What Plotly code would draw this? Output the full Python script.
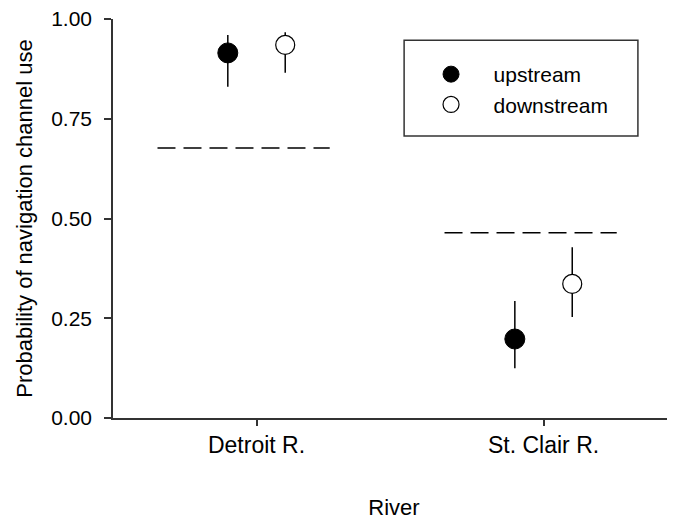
import plotly.graph_objects as go

rivers = ["Detroit R.", "St. Clair R."]
river_pos = [1, 2]
up_mean = [0.915, 0.198]
up_low = [0.830, 0.125]
up_high = [0.960, 0.293]
down_mean = [0.935, 0.336]
down_low = [0.865, 0.253]
down_high = [0.967, 0.428]
expected = [0.677, 0.464]

y_ticks = [0.0, 0.25, 0.5, 0.75, 1.0]
y_ticklabels = ["0.00", "0.25", "0.50", "0.75", "1.00"]

FONT = "Liberation Sans, Arial, sans-serif"
fig = go.Figure()

# expected (dashed) reference lines
for p, e in zip(river_pos, expected):
    fig.add_trace(go.Scatter(
        x=[p - 0.345, p + 0.255], y=[e, e], mode="lines",
        line=dict(color="black", width=1.5, dash="18px,8px"),
        showlegend=False, hoverinfo="skip"))

off = 0.1
pad = "&nbsp;&nbsp;&nbsp;"
fig.add_trace(go.Scatter(
    x=[p - off for p in river_pos], y=up_mean, mode="markers", name=pad + "upstream",
    marker=dict(size=20, color="black", line=dict(color="black", width=1)),
    error_y=dict(type="data", symmetric=False,
                 array=[h - m for h, m in zip(up_high, up_mean)],
                 arrayminus=[m - l for m, l in zip(up_mean, up_low)],
                 width=0, thickness=1.5, color="black")))
fig.add_trace(go.Scatter(
    x=[p + off for p in river_pos], y=down_mean, mode="markers", name=pad + "downstream",
    marker=dict(size=19, color="white", line=dict(color="black", width=1.2)),
    error_y=dict(type="data", symmetric=False,
                 array=[h - m for h, m in zip(down_high, down_mean)],
                 arrayminus=[m - l for m, l in zip(down_mean, down_low)],
                 width=0, thickness=1.5, color="black")))

fig.update_layout(
    width=667, height=512,
    margin=dict(l=105, r=0, t=11, b=102),
    paper_bgcolor="white", plot_bgcolor="white",
    font=dict(family=FONT, size=21, color="black"),
    showlegend=True,
    legend=dict(x=0.557, y=0.9123, xanchor="left", yanchor="top",
                bgcolor="rgba(0,0,0,0)", borderwidth=0,
                font=dict(size=21), itemwidth=40, tracegroupgap=0),
    shapes=[dict(type="rect", xref="paper", yref="paper",
                 x0=0.518, x1=0.934, y0=0.707, y1=0.947,
                 line=dict(color="#333", width=1.5))],
)
fig.update_xaxes(
    range=[0.5, 2.458], tickmode="array", tickvals=river_pos, ticktext=rivers,
    tickfont=dict(size=23),
    showline=True, linecolor="#333333", linewidth=1.5,
    ticks="outside", ticklen=6, tickwidth=1.5, tickcolor="#333333",
    showgrid=False, zeroline=False,
    title=dict(text="River", standoff=44, font=dict(size=22)),
)
fig.update_yaxes(
    range=[0, 1.0], tickmode="array", tickvals=y_ticks, ticktext=y_ticklabels,
    tickfont=dict(size=21), ticklabeloverflow="allow",
    showline=True, linecolor="#333333", linewidth=1.5,
    ticks="outside", ticklen=7, tickwidth=1.5, tickcolor="#333333",
    ticklabelstandoff=8,
    showgrid=False, zeroline=False,
    title=dict(text="Probability of navigation channel use", standoff=12, font=dict(size=22)),
)

fig.write_html("out.html")
